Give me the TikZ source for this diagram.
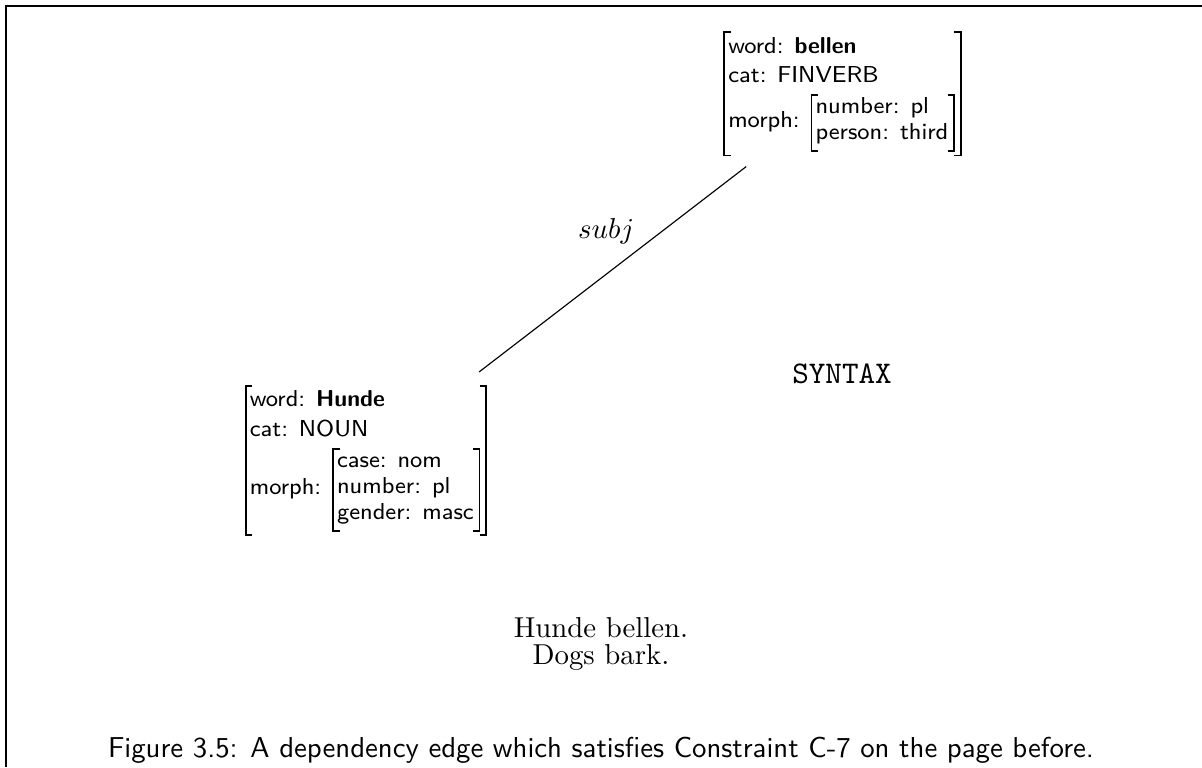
\documentclass[tikz,border=0pt]{standalone}
% attribute-value matrix: a left-aligned column between square brackets made of rules
\newdimen\avmH \newdimen\avmD \newdimen\avmT \newdimen\avmB \newdimen\avmS
\def\avmrule{0.6pt}
\def\avmtick{2pt}
\newcommand\avm[2][1]{%
  \setbox0=\hbox{\def\arraystretch{#1}\begin{tabular}{@{}l@{}}#2\end{tabular}}%
  \avmH=\ht0 \advance\avmH by 0.5pt
  \avmD=\dp0 \advance\avmD by 1.5pt
  \avmT=-\avmH \advance\avmT by \avmrule
  \avmB=-\avmD \advance\avmB by \avmrule
  \avmS=\avmH \advance\avmS by 1pt
  \hbox{\vrule width 0pt height\avmS
    \vrule width\avmrule height\avmH depth\avmD
    \rlap{\vrule width\avmtick height\avmH depth\avmT}%
    \rlap{\vrule width\avmtick height\avmB depth\avmD}%
    \kern1.1pt\box0\kern1.7pt
    \llap{\vrule width\avmtick height\avmH depth\avmT}%
    \llap{\vrule width\avmtick height\avmB depth\avmD}%
    \vrule width\avmrule height\avmH depth\avmD}}
\begin{document}
\begin{tikzpicture}[x=0.3472pt,y=-0.3472pt,
  avmnode/.style={font=\footnotesize\sffamily, inner sep=3.33pt},
  frameline/.style={line width=0.8pt},
  edge/.style={line width=0.4pt}]
\useasboundingbox (0,0) rectangle (1202,767);
\draw[frameline] (6.2,767) -- (6.2,6.2) -- (1202,6.2);

\node[avmnode] (bellen) at (842.5,92.5)
  {\avm[1.07]{word: \textbf{bellen}\\ cat: FINVERB\\
    morph: \avm[0.95]{number: pl\\ person: third}}};
\node[avmnode] (hunde) at (366,459)
  {\avm[1.07]{word: \textbf{Hunde}\\ cat: NOUN\\
    morph: \avm[0.95]{case: nom\\ number: pl\\ gender: masc}}};

\draw[edge] (hunde) -- (bellen)
  node[midway, anchor=base, xshift=-2.26pt, yshift=10.6pt] (lab) {$subj$};

\node[font=\fontsize{10.95}{13}\selectfont\ttfamily, anchor=base] (syntax) at (842,383) {SYNTAX};
\node[anchor=base] (sent) at (601,637) {Hunde bellen.};
\node[anchor=base] (gloss) at (601,664) {Dogs bark.};
\node[font=\sffamily, anchor=base] (caption) at (601,757)
  {Figure 3.5: A dependency edge which satisfies Constraint C-7 on the page before.};
\end{tikzpicture}
\end{document}
